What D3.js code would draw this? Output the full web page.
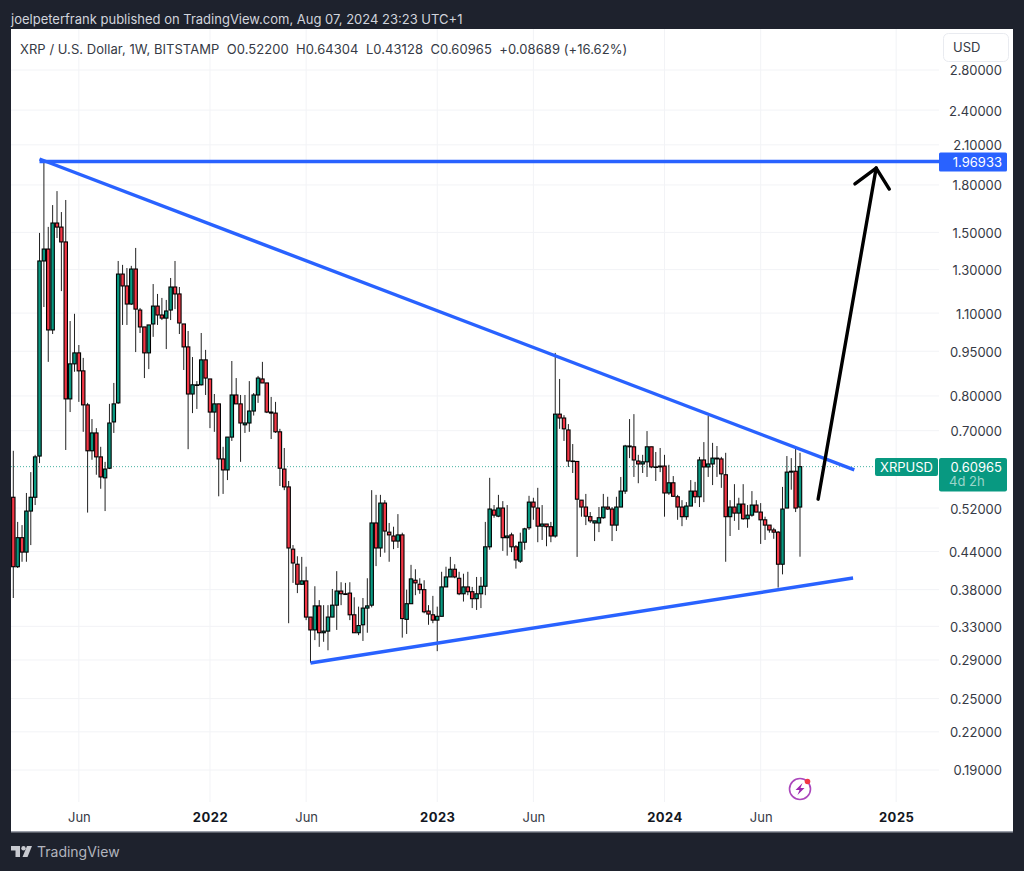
<!DOCTYPE html>
<html lang="en">
<head>
    <meta charset="UTF-8">
    <title>XRP / U.S. Dollar</title>
    <style>
        html, body { margin: 0; padding: 0; background: #1e222d; }
        svg { display: block; }
        text { font-family: Inter, "Noto Sans", sans-serif; }
        .grid { stroke: #f2f3f6; stroke-width: 1; }
        .wick { stroke: #222; stroke-width: 1; }
        .body { stroke: #000; stroke-width: 1.1; }
        .axis path, .axis line { display: none; }
        .axis text { font-family: Inter, "Noto Sans", sans-serif; font-size: 13px; fill: #363a45; }
        .trend { fill: none; stroke: #2962ff; stroke-width: 3.4; }
        .arrow { fill: none; stroke: #000; stroke-width: 3.4; stroke-linecap: round; stroke-linejoin: round; }
    </style>
</head>
<body>
    <div id="chart"></div>

    <script src="https://d3js.org/d3.v7.min.js"></script>
    <script>
        // weekly candles, one row per 10 weeks, first bar is 22 Feb 2021
        const opens = [
            .542,.415,.464,.439,.514,.542,.635,1.344,1.407,1.031,
            1.555,1.531,1.446,.791,.905,.944,.881,.773,.648,.694,
            .633,.584,.606,.724,.779,1.278,1.221,1.139,1.303,1.113,
            1.043,.944,1.055,1.130,1.092,1.079,1.113,1.216,1.184,1.055,
            .966,.806,.833,.835,.919,.854,.752,.776,.628,.602,
            .683,.803,.776,.716,.721,.755,.803,.854,.841,.752,
            .749,.697,.604,.564,.444,.419,.388,.393,.342,.3255,
            .357,.322,.324,.342,.358,.378,.374,.375,.345,.322,
            .332,.354,.358,.491,.446,.530,.474,.467,.458,.469,
            .339,.360,.394,.388,.380,.350,.345,.338,.343,.384,
            .399,.411,.397,.374,.384,.377,.367,.374,.385,.448,
            .516,.504,.520,.464,.469,.448,.424,.456,.482,.532,
            .520,.485,.489,.484,.467,.746,.735,.702,.623,.622,
            .536,.522,.503,.491,.491,.501,.522,.518,.487,.522,
            .555,.660,.658,.623,.616,.621,.658,.609,.609,.611,
            .551,.573,.543,.522,.503,.524,.555,.543,.6255,.609,
            .616,.630,.628,.591,.503,.522,.510,.528,.499,.506,
            .526,.512,.497,.487,.478,.474,.419,.520,.597,.599,
            .522
        ];
        const highs = [
            .648,.493,.487,.551,.597,.638,1.497,1.96,1.532,1.666,
            1.758,1.622,1.699,1.067,1.097,.973,.926,.779,.732,.707,
            .658,.621,.776,.841,1.344,1.324,1.308,1.319,1.413,1.122,
            1.043,1.051,1.230,1.184,1.166,1.157,1.259,1.344,1.216,1.055,
            1.027,.929,.847,1.019,.955,.854,.806,.776,.658,.683,
            .915,.857,.803,.803,.847,.809,.864,.912,.841,.797,
            .782,.705,.655,.577,.451,.432,.431,.415,.342,.385,
            .365,.358,.358,.381,.408,.391,.390,.391,.369,.356,
            .368,.397,.557,.547,.547,.536,.491,.484,.508,.473,
            .380,.418,.411,.397,.394,.358,.371,.356,.407,.415,
            .431,.419,.407,.404,.407,.384,.399,.399,.493,.584,
            .526,.547,.534,.526,.473,.451,.473,.482,.545,.541,
            .562,.526,.489,.493,.944,.854,.743,.718,.665,.623,
            .536,.549,.512,.495,.522,.549,.543,.522,.543,.586,
            .663,.732,.746,.638,.638,.699,.658,.645,.655,.638,
            .614,.588,.547,.536,.532,.579,.575,.633,.670,.741,
            .668,.660,.633,.643,.536,.570,.541,.570,.526,.555,
            .536,.530,.503,.487,.482,.476,.564,.635,.630,.658,
            .64304
        ];
        const lows = [
            .368,.413,.423,.423,.451,.526,.618,1.126,.912,1.015,
            1.468,1.197,.650,.752,.878,.782,.697,.511,.626,.591,
            .560,.514,.604,.694,.776,1.051,1.051,1.135,.947,1.019,
            .857,.887,1.004,1.051,1.071,.958,1.071,1.117,1.015,.884,
            .652,.749,.761,.833,.803,.707,.697,.544,.549,.579,
            .673,.776,.621,.694,.697,.742,.779,.841,.749,.678,
            .694,.566,.557,.334,.390,.375,.387,.338,.287,.313,
            .305,.311,.301,.342,.3255,.358,.373,.338,.322,.319,
            .312,.322,.355,.416,.431,.438,.423,.444,.446,.316,
            .3205,.360,.372,.374,.347,.332,.334,.300,.343,.384,
            .399,.397,.372,.363,.372,.354,.3515,.354,.372,.443,
            .501,.502,.441,.433,.439,.412,.421,.443,.478,.497,
            .456,.460,.449,.456,.464,.705,.673,.609,.595,.431,
            .503,.487,.491,.458,.474,.499,.516,.458,.476,.522,
            .549,.630,.586,.572,.595,.586,.606,.577,.597,.503,
            .547,.543,.497,.485,.497,.524,.530,.522,.532,.586,
            .568,.586,.562,.423,.467,.495,.478,.497,.482,.503,
            .512,.453,.460,.473,.462,.383,.403,.520,.558,.512,
            .43128
        ];
        const closes = [
            .415,.464,.439,.514,.542,.633,1.344,1.407,1.031,1.555,
            1.531,1.446,.791,.905,.944,.881,.773,.648,.694,.633,
            .586,.604,.721,.776,1.278,1.221,1.139,1.303,1.117,1.043,
            .944,1.051,1.130,1.092,1.079,1.109,1.216,1.184,1.059,.966,
            .806,.835,.835,.919,.857,.752,.776,.628,.602,.683,
            .803,.776,.721,.721,.755,.803,.857,.841,.752,.749,
            .697,.606,.564,.446,.421,.388,.393,.342,.3255,.357,
            .322,.324,.342,.358,.378,.374,.373,.345,.322,.331,
            .354,.357,.491,.446,.530,.476,.469,.458,.469,.340,
            .360,.396,.390,.380,.349,.346,.338,.343,.384,.399,
            .411,.399,.374,.384,.377,.367,.374,.385,.448,.518,
            .506,.520,.464,.467,.448,.426,.456,.480,.532,.522,
            .485,.489,.484,.467,.746,.735,.705,.623,.622,.538,
            .522,.504,.495,.495,.501,.522,.518,.487,.522,.555,
            .660,.658,.6255,.616,.621,.658,.609,.608,.611,.551,
            .573,.544,.522,.503,.524,.555,.543,.6255,.609,.616,
            .630,.628,.593,.503,.522,.510,.528,.499,.506,.526,
            .512,.497,.487,.478,.474,.419,.518,.597,.599,.520,
            .60965
        ];

        const priceTicks = [2.8, 2.4, 2.1, 1.8, 1.5, 1.3, 1.1, .95, .8, .7, .52, .44, .38, .33, .29, .25, .22, .19];
        const dateTicks = ["2021-06-07", "2022-01-03", "2022-06-06", "2023-01-02", "2023-06-05", "2024-01-01", "2024-06-03", "2025-01-06"];
        const dateLabels = ["Jun", "2022", "Jun", "2023", "Jun", "2024", "Jun", "2025"];

        const resistance = 1.96933;
        const lastPrice = 0.60965;
        const horizontalLine = [["2021-04-05", resistance], ["2025-04-10", resistance]];
        const upperTrend = [["2021-04-05", 1.989], ["2024-10-31", 0.602]];
        const lowerTrend = [["2022-06-13", 0.2867], ["2024-10-29", 0.3974]];
        const arrowShaft = [["2024-09-03", 0.538], ["2024-12-05", 1.921]];
        const arrowHead = [["2024-11-01", 1.807], ["2024-12-05", 1.921], ["2024-12-26", 1.772]];

        const titleText = "XRP / U.S. Dollar, 1W, BITSTAMP\u00a0\u00a0O0.52200\u00a0\u00a0H0.64304\u00a0\u00a0L0.43128\u00a0\u00a0C0.60965\u00a0\u00a0+0.08689 (+16.62%)";
        const publishedText = "joelpeterfrank published on TradingView.com, Aug 07, 2024 23:23 UTC+1";

        const width = 1024;
        const height = 871;
        const paneLeft = 11, paneRight = 1013, paneTop = 29, paneBottom = 832;
        const plotRight = 939, plotBottom = 802;

        const up = "#089981";
        const down = "#f23645";
        const blue = "#2962ff";

        const parseDate = d3.utcParse("%Y-%m-%d");
        const weeks = d3.utcMonday.range(Date.UTC(2021, 1, 22), Date.UTC(2024, 7, 6));

        const x = d3.scaleUtc()
            .domain([weeks[0], weeks[weeks.length - 1]])
            .range([13.3, 800]);

        const y = d3.scaleLog()
            .domain([2.8, 0.19])
            .range([70, 770]);

        const svg = d3.select("#chart")
            .append("svg")
            .attr("width", width)
            .attr("height", height);

        svg.append("rect")
            .attr("x", paneLeft)
            .attr("y", paneTop)
            .attr("width", paneRight - paneLeft)
            .attr("height", paneBottom - paneTop)
            .attr("fill", "#fff");

        svg.append("rect")
            .attr("x", paneLeft)
            .attr("y", paneBottom - 1)
            .attr("width", paneRight - paneLeft)
            .attr("height", 1.5)
            .attr("fill", "#9a9ea8");

        svg.append("text")
            .attr("x", 11)
            .attr("y", 24)
            .attr("font-size", 13)
            .attr("fill", "#d1d4dc")
            .text(publishedText);

        // grid
        svg.selectAll(".hgrid")
            .data(priceTicks)
            .enter()
            .append("line")
            .attr("class", "grid hgrid")
            .attr("x1", paneLeft)
            .attr("x2", plotRight)
            .attr("y1", d => y(d))
            .attr("y2", d => y(d));

        svg.selectAll(".vgrid")
            .data(dateTicks)
            .enter()
            .append("line")
            .attr("class", "grid vgrid")
            .attr("x1", d => x(parseDate(d)))
            .attr("x2", d => x(parseDate(d)))
            .attr("y1", paneTop)
            .attr("y2", plotBottom);

        // last price dotted line
        svg.append("line")
            .attr("x1", paneLeft)
            .attr("x2", 875)
            .attr("y1", y(lastPrice))
            .attr("y2", y(lastPrice))
            .attr("stroke", up)
            .attr("stroke-opacity", 0.75)
            .attr("stroke-dasharray", "1 2");

        // candles
        const bars = svg.append("g").attr("class", "candles");

        bars.selectAll(".wick")
            .data(weeks)
            .enter()
            .append("line")
            .attr("class", "wick")
            .attr("x1", d => x(d))
            .attr("x2", d => x(d))
            .attr("y1", (d, i) => y(highs[i]))
            .attr("y2", (d, i) => y(lows[i]));

        bars.selectAll(".body")
            .data(weeks)
            .enter()
            .append("rect")
            .attr("class", "body")
            .attr("x", d => x(d) - 1.7)
            .attr("width", 3.4)
            .attr("y", (d, i) => y(Math.max(opens[i], closes[i])))
            .attr("height", (d, i) => Math.max(0.5, Math.abs(y(opens[i]) - y(closes[i]))))
            .attr("fill", (d, i) => closes[i] >= opens[i] ? up : down);

        // drawings
        const line = d3.line()
            .x(d => x(parseDate(d[0])))
            .y(d => y(d[1]));

        [upperTrend, lowerTrend].forEach(t => {
            svg.append("path").attr("class", "trend").attr("d", line(t));
        });
        svg.append("path")
            .attr("class", "trend")
            .attr("d", line([horizontalLine[0], [horizontalLine[1][0], resistance]]))
            .attr("clip-path", "url(#plotClip)");

        svg.append("clipPath")
            .attr("id", "plotClip")
            .append("rect")
            .attr("x", paneLeft)
            .attr("y", paneTop)
            .attr("width", plotRight - paneLeft)
            .attr("height", plotBottom - paneTop);

        svg.append("path").attr("class", "arrow").attr("d", line(arrowShaft));
        svg.append("path").attr("class", "arrow").attr("d", line(arrowHead));

        // axes
        const priceAxis = svg.append("g")
            .attr("class", "axis")
            .attr("transform", "translate(1002,0.8)")
            .call(d3.axisLeft(y)
                .tickValues(priceTicks)
                .tickSize(0)
                .tickPadding(0)
                .tickFormat(d3.format(".5f")));

        const timeAxis = svg.append("g")
            .attr("class", "axis")
            .attr("transform", "translate(0,813)")
            .call(d3.axisBottom(x)
                .tickValues(dateTicks.map(parseDate))
                .tickSize(0)
                .tickPadding(0)
                .tickFormat((d, i) => dateLabels[i]));

        timeAxis.selectAll("text")
            .attr("dy", "0.71em")
            .style("font-weight", (d, i) => dateLabels[i] === "Jun" ? 400 : 700)
            .style("letter-spacing", (d, i) => dateLabels[i] === "Jun" ? "0" : "0.5px")
            .style("fill", (d, i) => dateLabels[i] === "Jun" ? "#363a45" : "#131722");

        // legend line
        svg.append("text")
            .attr("x", 20)
            .attr("y", 54)
            .attr("font-size", 13)
            .attr("letter-spacing", "0.05px")
            .attr("fill", "#363a45")
            .text(titleText);

        // currency button
        svg.append("rect")
            .attr("x", 943.5)
            .attr("y", 33.5)
            .attr("width", 65)
            .attr("height", 28)
            .attr("rx", 5)
            .attr("fill", "#fff")
            .attr("stroke", "#e9ebf0");

        svg.append("text")
            .attr("x", 953)
            .attr("y", 52)
            .attr("font-size", 13)
            .attr("fill", "#363a45")
            .text("USD");

        // price labels
        svg.append("rect")
            .attr("x", 939)
            .attr("y", y(resistance) - 9)
            .attr("width", 68)
            .attr("height", 19)
            .attr("rx", 1.5)
            .attr("fill", blue);

        svg.append("text")
            .attr("x", 1002)
            .attr("y", y(resistance) + 5)
            .attr("text-anchor", "end")
            .attr("font-size", 13)
            .attr("fill", "#fff")
            .text(d3.format(".5f")(resistance));

        svg.append("rect")
            .attr("x", 875)
            .attr("y", 458)
            .attr("width", 63)
            .attr("height", 18)
            .attr("rx", 2)
            .attr("fill", up);

        svg.append("text")
            .attr("x", 906.5)
            .attr("y", 471.5)
            .attr("text-anchor", "middle")
            .attr("font-size", 13)
            .attr("fill", "#fff")
            .text("XRPUSD");

        svg.append("rect")
            .attr("x", 939)
            .attr("y", 458)
            .attr("width", 68)
            .attr("height", 33.5)
            .attr("rx", 2)
            .attr("fill", up);

        svg.append("text")
            .attr("x", 1002)
            .attr("y", 471.5)
            .attr("text-anchor", "end")
            .attr("font-size", 13)
            .attr("fill", "#fff")
            .text(d3.format(".5f")(lastPrice));

        svg.append("text")
            .attr("x", 949)
            .attr("y", 486)
            .attr("font-size", 13)
            .attr("fill", "rgba(255,255,255,0.6)")
            .text("4d 2h");

        // bolt badge
        const badge = svg.append("g").attr("transform", "translate(800,789)");
        badge.append("circle")
            .attr("r", 10.5)
            .attr("fill", "#fff")
            .attr("stroke", "#ab47bc")
            .attr("stroke-width", 1.6);
        badge.append("path")
            .attr("d", "M2.5,-6 L-4.5,1 L-0.5,1 L-2.5,6 L4.5,-1 L0.5,-1 Z")
            .attr("fill", "#9c27b0");
        badge.append("circle")
            .attr("cx", 7.5)
            .attr("cy", -7.5)
            .attr("r", 2.8)
            .attr("fill", "#f23645");

        // footer logo
        const logo = svg.append("g")
            .attr("transform", "translate(11,846)")
            .attr("fill", "#c8cad0");
        logo.append("path").attr("d", "M0,0 H9 V11 H4.5 V4.5 H0 Z");
        logo.append("circle").attr("cx", 12.5).attr("cy", 2.2).attr("r", 2.2);
        logo.append("path").attr("d", "M16,0 H21 L16.5,11 H11.5 Z");

        svg.append("text")
            .attr("x", 37)
            .attr("y", 856.5)
            .attr("font-size", 14)
            .attr("fill", "#b2b5be")
            .text("TradingView");
    </script>
</body>
</html>
